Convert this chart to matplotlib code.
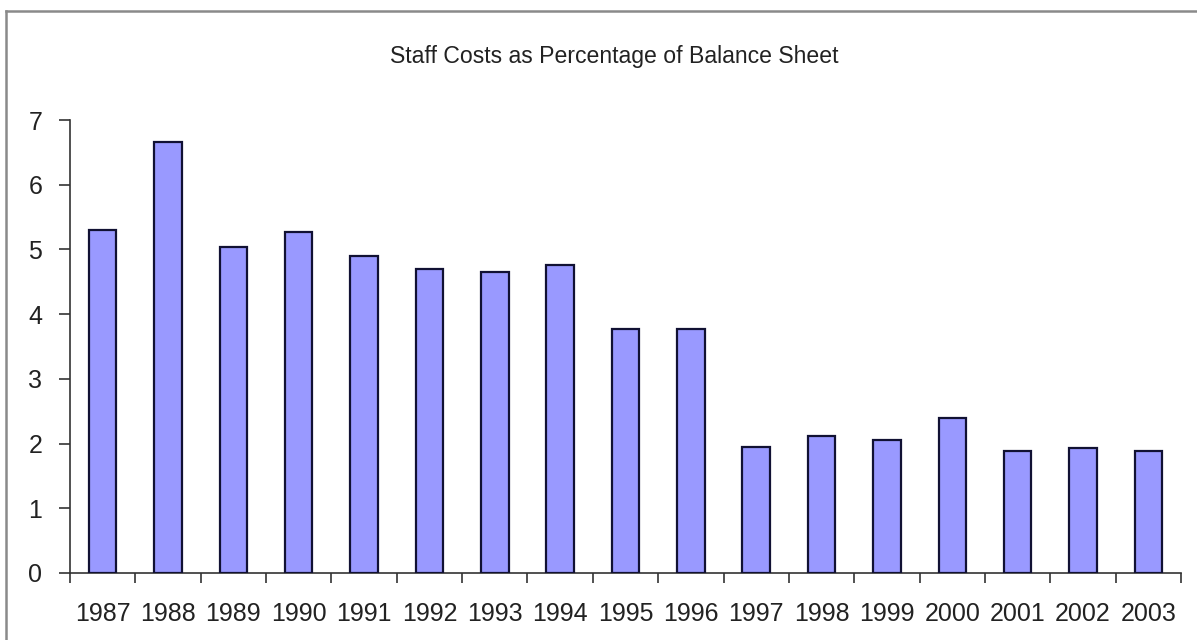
import matplotlib
matplotlib.use("Agg")
import matplotlib.pyplot as plt
from matplotlib.lines import Line2D
import numpy as np

years = ["1987", "1988", "1989", "1990", "1991", "1992", "1993", "1994", "1995",
         "1996", "1997", "1998", "1999", "2000", "2001", "2002", "2003"]
values = [5.30, 6.66, 5.04, 5.27, 4.90, 4.70, 4.65, 4.76, 3.77,
          3.77, 1.95, 2.12, 2.06, 2.40, 1.89, 1.93, 1.89]
title = "Staff Costs as Percentage of Balance Sheet"

plt.rcParams['font.family'] = ['Liberation Sans', 'DejaVu Sans']
W, H = 1197, 640
fig = plt.figure(figsize=(W/100, H/100), dpi=100)
fig.patch.set_facecolor('white')
# frame lines (top and left only visible in reference)
fig.lines.append(Line2D([6/W, 1.0], [1-11/H, 1-11/H], transform=fig.transFigure,
                        color='#8a8a8a', linewidth=1.8))
fig.lines.append(Line2D([6/W, 6/W], [0, 1-11/H], transform=fig.transFigure,
                        color='#8a8a8a', linewidth=1.8))

ax = fig.add_axes([70/W, 1-573/H, (1181-70)/W, (573-120)/H])
x = np.arange(len(years))
ax.bar(x, values, width=0.42, color='#9999FF', edgecolor='#111133', linewidth=1.6, zorder=3)

ax.set_xlim(-0.5, len(years)-0.5)
ax.set_ylim(0, 7)
ax.set_yticks(range(0, 8))
ax.set_xticks(x)
ax.set_xticklabels(years)
ax.set_xticks(np.arange(-0.5, len(years), 1.0), minor=True)
ax.tick_params(axis='x', which='major', length=0, pad=21, labelsize=18, labelcolor='#222222')
ax.tick_params(axis='x', which='minor', length=7, width=1.2, color='#333333', direction='out')
ax.tick_params(axis='y', length=8, width=1.2, color='#333333', direction='out', pad=12,
               labelsize=18, labelcolor='#222222')
for s in ['top', 'right']:
    ax.spines[s].set_visible(False)
for s in ['left', 'bottom']:
    ax.spines[s].set_color('#333333')
    ax.spines[s].set_linewidth(1.2)

fig.text(614/W, 1-57/H, title, ha='center', va='center', fontsize=16.6, color='#222222')

fig.savefig('out.png', dpi=100)
